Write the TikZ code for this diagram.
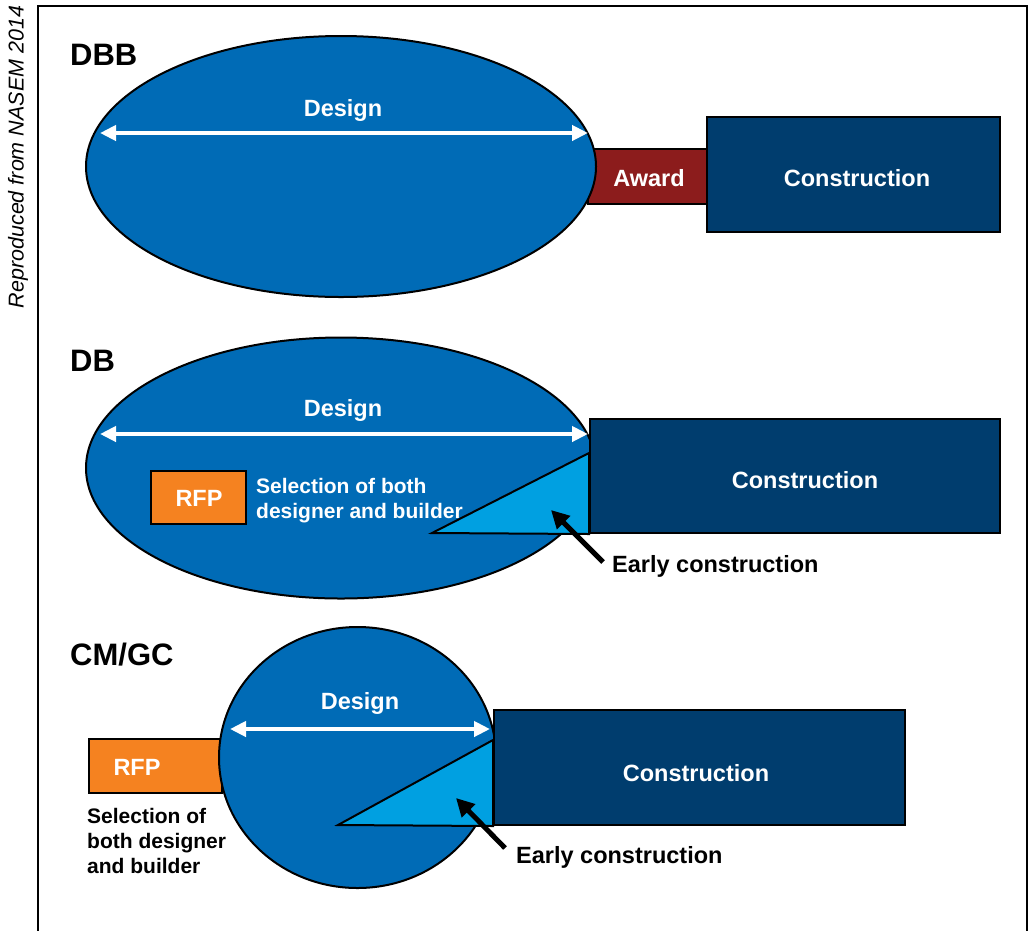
\documentclass[tikz,border=0pt]{standalone}
\usepackage{fontspec}
\setmainfont{Liberation Sans}
\usetikzlibrary{shapes.geometric,arrows.meta}

\definecolor{designblue}{RGB}{0,107,182}
\definecolor{constrblue}{RGB}{0,61,110}
\definecolor{earlyblue}{RGB}{0,160,225}
\definecolor{rfporange}{RGB}{245,130,32}
\definecolor{awardred}{RGB}{140,28,28}

\tikzset{
  phase/.style={ellipse,draw=black,line width=2pt,fill=designblue,inner sep=0pt},
  constr/.style={rectangle,draw=black,line width=2pt,fill=constrblue,inner sep=0pt},
  rfp/.style={rectangle,draw=black,line width=2pt,fill=rfporange,inner sep=0pt},
  award/.style={rectangle,draw=black,line width=2pt,fill=awardred,inner sep=0pt},
  early/.style={draw=black,line width=2pt,fill=earlyblue,line join=miter},
  lbl/.style={text=white,font=\fontsize{23.5}{28}\selectfont\bfseries,inner sep=0pt},
  head/.style={font=\fontsize{31}{36}\selectfont\bfseries,inner sep=0pt,anchor=west},
  note/.style={font=\fontsize{21}{25}\selectfont\bfseries,inner sep=0pt,align=left},
  span/.style={white,line width=4pt,{Triangle[length=16pt,width=15pt]}-{Triangle[length=16pt,width=15pt]}},
  pointer/.style={black,line width=5pt,-{Triangle[length=18pt,width=18pt]}}
}

\begin{document}
\begin{tikzpicture}[x=1pt,y=-1pt]
\useasboundingbox (0,0) rectangle (1030,930);
% frame and source
\draw[line width=1.5pt] (38,931)--(38,6)--(1027,6)--(1027,931);
\node[rotate=90,font=\fontsize{21.5}{25}\selectfont\itshape,inner sep=0pt] (src) at (18,157) {Reproduced from NASEM 2014};

% DBB
\node[head] (hdbb) at (70,55) {DBB};
\node[award,minimum width=120,minimum height=55] (aw) at (648,176.5) {};
\node[phase,minimum width=510,minimum height=261] (d1) at (341,166.5) {};
\node[lbl] (aw-t) at (649,178) {Award};
\node[constr,minimum width=293,minimum height=115] (c1) at (853.5,174.5) {};
\node[lbl] (c1-t) at (857,178) {Construction};
\coordinate (d1l) at (100,133);
\coordinate (d1r) at (588,133);
\draw[span] (d1l) -- (d1r);
\node[lbl] (d1-t) at (343,110) {Design};

% DB
\node[head] (hdb) at (70,361) {DB};
\node[phase,minimum width=510,minimum height=261] (d2) at (341,468) {};
\node[constr,minimum width=410,minimum height=114] (c2) at (795,476) {};
\node[lbl] (c2-t) at (805,480) {Construction};
\coordinate (t2a) at (432,533);
\draw[early] (t2a) -- (c2.south west) -- ([yshift=23]c2.west) -- cycle;
\coordinate (d2l) at (100,434);
\coordinate (d2r) at (588,434);
\draw[span] (d2l) -- (d2r);
\node[lbl] (d2-t) at (343,410) {Design};
\node[rfp,minimum width=95,minimum height=53] (r2) at (198.5,497.5) {};
\node[lbl] (r2-t) at (199,498) {RFP};
\node[note,text=white,anchor=north west] (s2) at (256,478) {Selection of both\\designer and builder};
\node[note,font=\fontsize{23.5}{28}\selectfont\bfseries,anchor=west] (e2) at (612,566) {Early construction};
\coordinate (e2p) at (603,562);
\coordinate (e2q) at (551,510);
\draw[pointer] (e2p) -- (e2q);

% CM/GC
\node[head] (hcm) at (70,655) {CM/GC};
\node[rfp,minimum width=133,minimum height=54] (r3) at (155.5,766) {};
\node[lbl] (r3-t) at (137,767) {RFP};
\node[phase,minimum width=277,minimum height=261] (d3) at (357.5,757.5) {};
\node[constr,minimum width=411,minimum height=115] (c3) at (699.5,767.5) {};
\node[lbl] (c3-t) at (696,773) {Construction};
\coordinate (t3a) at (338,825);
\draw[early] (t3a) -- (c3.south west) -- ([yshift=27.5]c3.west) -- cycle;
\coordinate (d3l) at (230,729);
\coordinate (d3r) at (490,729);
\draw[span] (d3l) -- (d3r);
\node[lbl] (d3-t) at (360,703) {Design};
\node[note,anchor=north west] (s3) at (87,808) {Selection of\\both designer\\and builder};
\node[note,font=\fontsize{23.5}{28}\selectfont\bfseries,anchor=west] (e3) at (516,857) {Early construction};
\coordinate (e3p) at (505,848);
\coordinate (e3q) at (456,798);
\draw[pointer] (e3p) -- (e3q);
\end{tikzpicture}
\end{document}
